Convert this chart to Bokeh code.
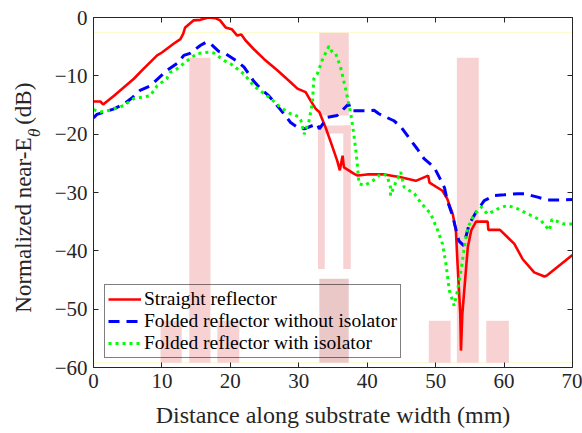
from math import pi
from bokeh.plotting import figure
from bokeh.layouts import row
from bokeh.models import Range1d, LinearAxis, FixedTicker
from bokeh.core.properties import value
from bokeh.embed import file_html
from bokeh.resources import INLINE

# ---------------- data ----------------
red_x = [0, 1.0, 1.4, 3.0, 5.9, 7.3, 9.3, 10.0, 11.7, 12.7, 13.1, 13.4, 14.6, 15.6, 16.8, 17.8,
         18.5, 19.3, 20.2, 21.0, 21.6, 22.2, 23.4, 24.9, 26.9, 28.8, 29.8, 31.0, 31.7, 32.5,
         33.0, 33.9, 34.6, 35.6, 36.0, 36.4, 36.6, 38.1, 38.6, 40.0, 42.5, 44.9, 47.1, 48.9,
         49.1, 51.0, 51.7, 52.5, 52.96, 53.2, 53.6, 53.7, 53.9, 54.3, 54.7, 55.2, 55.9, 57.6,
         57.7, 59.4, 61.5, 62.2, 62.7, 64.4, 65.9, 66.3, 68.3, 70.0]
red_y = [-14.4, -14.4, -14.9, -13.4, -10.5, -8.8, -6.5, -6.0, -4.5, -3.7, -2.8, -1.7, -0.5, -0.4,
         0.0, -0.1, -0.5, -1.7, -2.0, -3.1, -2.9, -3.9, -5.4, -7.1, -9.1, -11.1, -12.2, -12.8,
         -14.2, -15.7, -16.2, -18.8, -21.1, -24.5, -26.2, -23.7, -25.7, -26.8, -27.1, -26.9,
         -26.9, -27.4, -28.0, -27.1, -28.3, -29.7, -31.1, -33.7, -36.5, -42.2, -50.8, -57.1,
         -50.8, -45.1, -39.4, -36.5, -35.0, -35.0, -36.4, -36.4, -38.8, -40.3, -41.4, -43.7,
         -44.4, -44.2, -42.3, -40.7]

blue_x = [0, 0.5, 2.9, 4.5, 5.6, 6.8, 8.3, 10.7, 12.2, 13.2, 14.2, 15.6, 16.5, 17.2, 18.3, 19.3,
          21.0, 22.0, 23.4, 24.4, 25.6, 26.4, 27.8, 28.8, 29.8, 30.8, 32.7, 33.0, 34.2, 35.6,
          37.3, 37.6, 40.0, 41.0, 41.7, 43.9, 44.9, 46.4, 47.3, 48.3, 49.8, 50.8, 51.3, 51.7,
          52.4, 52.9, 53.4, 54.1, 54.9, 55.9, 57.1, 58.6, 60.0, 62.0, 63.0, 64.9, 66.4, 68.3, 70.0]
blue_y = [-17.2, -16.6, -15.7, -14.8, -13.8, -12.5, -11.7, -9.1, -7.9, -6.5, -6.1, -4.8, -4.2,
          -4.6, -5.8, -6.2, -7.5, -8.5, -10.9, -12.2, -13.4, -14.5, -16.5, -18.0, -18.8, -19.1,
          -18.2, -19.1, -17.1, -16.8, -14.8, -16.0, -16.0, -15.9, -16.5, -17.7, -18.7, -21.1,
          -22.5, -24.2, -25.7, -28.0, -29.2, -31.4, -33.7, -36.0, -38.3, -39.1, -35.4, -33.4,
          -31.4, -30.5, -30.4, -30.2, -30.2, -30.8, -31.3, -31.3, -31.2]

green_x = [0, 1.0, 2.4, 4.4, 5.9, 8.3, 9.3, 10.7, 11.2, 12.2, 13.7, 15.1, 16.8, 17.6, 19.1, 20.0,
           22.0, 23.4, 25.9, 27.3, 28.8, 30.0, 30.3, 30.8, 31.5, 32.0, 32.2, 32.7, 33.4, 34.4,
           34.9, 35.4, 36.1, 36.8, 37.6, 38.1, 38.5, 38.8, 39.6, 40.8, 42.0, 42.9, 43.4, 43.4,
           44.2, 44.9, 45.4, 46.9, 47.8, 49.3, 50.3, 51.0, 51.5, 52.0, 52.7, 53.2, 53.7, 54.2,
           54.7, 55.7, 56.7, 57.6, 59.1, 60.5, 62.0, 64.4, 65.4, 66.6, 67.0, 68.8, 70.0]
green_y = [-15.8, -16.2, -15.9, -15.1, -13.9, -13.4, -11.7, -10.5, -9.4, -8.8, -7.4, -6.2, -5.95,
           -6.1, -7.4, -7.9, -9.7, -11.7, -13.9, -15.4, -16.5, -17.0, -17.6, -20.0, -17.7, -14.5,
           -10.5, -9.7, -7.4, -4.9, -5.95, -6.2, -8.5, -12.0, -16.5, -20.5, -24.5, -28.5, -28.8,
           -28.0, -26.8, -27.1, -29.1, -30.5, -28.2, -26.5, -29.1, -30.2, -31.7, -33.7, -36.5,
           -38.8, -42.2, -46.8, -49.4, -46.8, -43.4, -39.4, -36.0, -33.7, -32.5, -33.7, -32.8,
           -32.2, -32.8, -34.2, -34.8, -36.5, -34.6, -35.4, -35.4]

# shaded (pink) regions
rect_left = [14.0, 33.0, 32.8, 32.8, 36.5, 9.8, 18.1, 49.0, 53.1, 57.4]
rect_right = [17.1, 37.3, 37.6, 33.8, 37.6, 12.9, 21.3, 52.2, 56.3, 60.7]
rect_bottom = [-59.2, -16.8, -19.9, -43.1, -43.1, -59.2, -59.2, -59.2, -59.2, -59.2]
rect_top = [-6.9, -2.6, -18.5, -18.5, -18.5, -52.0, -52.0, -52.0, -6.9, -52.0]
dark_left = [33.0]
dark_right = [37.3]
dark_bottom = [-59.2]
dark_top = [-44.8]

x_ticks = [0, 10, 20, 30, 40, 50, 60, 70]
y_ticks = [-60, -50, -40, -30, -20, -10, 0]
guide_y = [-2.6, -59.2]

labels = ["Straight reflector", "Folded reflector without isolator", "Folded reflector with isolator"]
ylabel_parts = ["Normalized near-E", "θ", " (dB)"]
xlabel = "Distance along substrate width (mm)"

FONT = "serif"
GFONT = "Liberation Serif"
AX = "#262626"
LEFT_W = 45

p = figure(width=582 - LEFT_W, height=433, output_backend="svg", toolbar_location=None,
           x_range=Range1d(0, 70), y_range=Range1d(-60, 0),
           min_border_left=93 - LEFT_W, min_border_right=10, min_border_top=17,
           min_border_bottom=66, background_fill_color="white", border_fill_color="white")
p.outline_line_color = None
p.xgrid.visible = False
p.ygrid.visible = False

for gy in guide_y:
    p.line([0, 70], [gy, gy], line_color="#fdfbc8", line_width=1)

p.quad(left=rect_left, right=rect_right, bottom=rect_bottom, top=rect_top,
       fill_color="#f8d2d2", line_color=None)
p.quad(left=dark_left, right=dark_right, bottom=dark_bottom, top=dark_top,
       fill_color="#ebc8c8", line_color=None)

p.line(red_x, red_y, line_color="#ff0000", line_width=2.6, legend_label=labels[0])
p.line(blue_x, blue_y, line_color="#0000ff", line_width=3, line_dash="11 7",
       legend_label=labels[1])
p.line(green_x, green_y, line_color="#00ff00", line_width=3, line_dash="3 4",
       legend_label=labels[2])

for ax in (p.xaxis[0], p.yaxis[0]):
    ax.major_tick_in = 5
    ax.major_tick_out = 0
    ax.minor_tick_line_color = None
    ax.axis_line_color = AX
    ax.major_tick_line_color = AX
    ax.major_label_text_font = FONT
    ax.major_label_text_font_size = "21px"
    ax.major_label_text_color = AX
    ax.axis_label_text_font = FONT
    ax.axis_label_text_font_style = "normal"
    ax.axis_label_text_font_size = "24px"
    ax.axis_label_text_color = AX
p.xaxis[0].ticker = FixedTicker(ticks=x_ticks)
p.yaxis[0].ticker = FixedTicker(ticks=y_ticks)
p.xaxis[0].axis_label = xlabel
p.xaxis[0].major_label_standoff = 6
p.xaxis[0].axis_label_standoff = 11
p.yaxis[0].major_label_standoff = 6

top_ax = LinearAxis(ticker=FixedTicker(ticks=x_ticks))
right_ax = LinearAxis(ticker=FixedTicker(ticks=y_ticks))
for ax in (top_ax, right_ax):
    ax.major_tick_in = 5
    ax.major_tick_out = 0
    ax.minor_tick_line_color = None
    ax.axis_line_color = AX
    ax.major_tick_line_color = AX
    ax.major_label_text_font_size = "0px"
    ax.major_label_standoff = 0
    ax.major_label_text_color = None
p.add_layout(top_ax, "above")
p.add_layout(right_ax, "right")

lg = p.legend[0]
lg.location = (11, 9)
lg.label_text_font = FONT
lg.label_text_font_size = "19.5px"
lg.label_text_color = "black"
lg.border_line_color = "black"
lg.border_line_width = 1
lg.background_fill_alpha = 0
lg.padding = 3
lg.spacing = 0
lg.margin = 0
lg.label_height = 20
lg.glyph_height = 20
lg.glyph_width = 33
lg.label_standoff = 3

# narrow strip on the left holding the rotated y-axis title (with subscript theta);
# its frame is aligned with the main frame, so it shares the y scale
yl = figure(width=LEFT_W, height=433, output_backend="svg", toolbar_location=None,
            x_range=Range1d(0, LEFT_W), y_range=Range1d(-60, 0),
            x_axis_location=None, y_axis_location=None,
            min_border=0, min_border_left=0, min_border_right=0,
            min_border_top=17, min_border_bottom=66,
            background_fill_color="white", border_fill_color="white")
yl.grid.visible = False
yl.outline_line_color = None
yl.text(x=[23], y=[-50.6], text=[ylabel_parts[0]], angle=pi / 2, text_align="left",
        text_baseline="middle", text_font=value(GFONT), text_font_size="23px", text_color=AX)
yl.text(x=[34], y=[-20.5], text=[ylabel_parts[1]], angle=pi / 2, text_align="left",
        text_baseline="middle", text_font=value(GFONT), text_font_style="italic",
        text_font_size="17px", text_color=AX)
yl.text(x=[23], y=[-18.4], text=[ylabel_parts[2]], angle=pi / 2, text_align="left",
        text_baseline="middle", text_font=value(GFONT), text_font_size="23px", text_color=AX)

layout = row(yl, p, spacing=0)
open("out.html", "w").write(file_html(layout, INLINE))
